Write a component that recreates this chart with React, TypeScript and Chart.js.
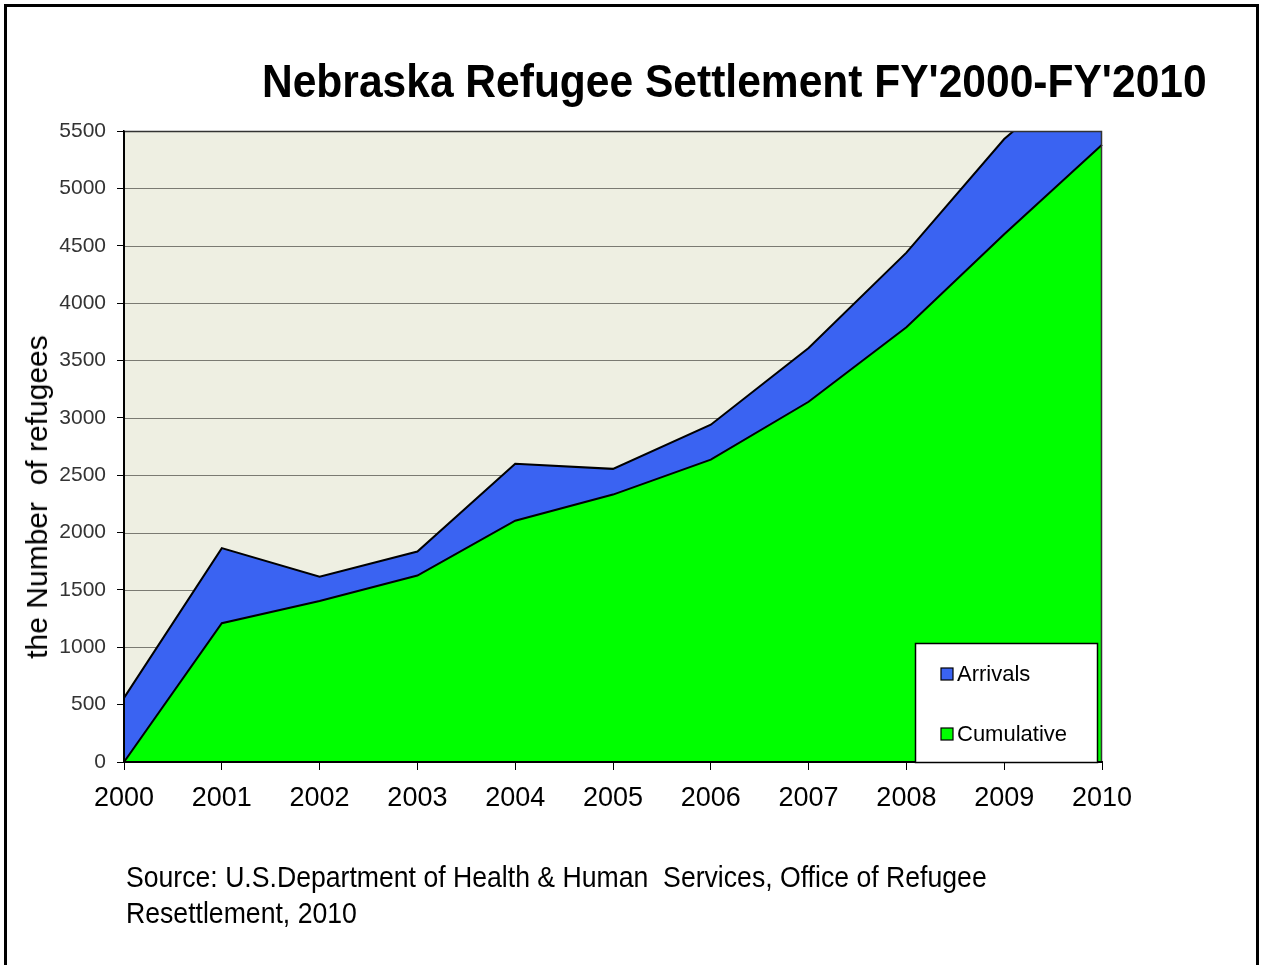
import React, { useEffect, useRef } from 'react';
import { Chart, registerables } from 'chart.js';

Chart.register(...registerables);

const years = ['2000', '2001', '2002', '2003', '2004', '2005', '2006', '2007', '2008', '2009', '2010'];
const cumulative = [0, 1210, 1404, 1625, 2103, 2331, 2636, 3140, 3790, 4600, 5380];
const arrivals = [559, 654, 210, 210, 496, 224, 304, 468, 650, 830, 780];
const yMax = 5500;
const yStep = 500;

const FONT = "'Liberation Sans', Arial, Helvetica, sans-serif";

const plotBackground = {
  id: 'plotBackground',
  beforeDatasetsDraw(chart: any) {
    const { ctx, chartArea: a } = chart;
    ctx.save();
    ctx.fillStyle = '#EEEFE2';
    ctx.fillRect(a.left, a.top, a.right - a.left, a.bottom - a.top);
    const y = chart.scales.y;
    ctx.strokeStyle = '#7a7a72';
    ctx.lineWidth = 1;
    y.ticks.forEach((t: any) => {
      const py = Math.round(y.getPixelForValue(t.value)) + 0.5;
      ctx.beginPath();
      ctx.moveTo(a.left, py);
      ctx.lineTo(a.right, py);
      ctx.stroke();
    });
    ctx.restore();
  },
};

const frameAndLegend = {
  id: 'frameAndLegend',
  afterDraw(chart: any) {
    const { ctx, chartArea: a } = chart;
    ctx.save();
    ctx.strokeStyle = '#333';
    ctx.lineWidth = 1.5;
    ctx.beginPath();
    ctx.moveTo(a.left, a.top + 0.5);
    ctx.lineTo(a.right - 0.5, a.top + 0.5);
    ctx.lineTo(a.right - 0.5, a.bottom);
    ctx.stroke();
    ctx.strokeStyle = '#000';
    ctx.lineWidth = 2;
    ctx.beginPath();
    ctx.moveTo(a.left, a.top);
    ctx.lineTo(a.left, a.bottom);
    ctx.lineTo(a.right, a.bottom);
    ctx.stroke();

    const bx = a.right - 187;
    const by = a.bottom - 119;
    const bw = 182;
    const bh = 119;
    ctx.fillStyle = '#ffffff';
    ctx.fillRect(bx, by, bw, bh);
    ctx.strokeStyle = '#000';
    ctx.lineWidth = 1.5;
    ctx.strokeRect(bx + 0.5, by + 0.5, bw, bh);
    const items = chart.data.datasets.slice().reverse();
    ctx.font = `22px ${FONT}`;
    ctx.textBaseline = 'middle';
    ctx.textAlign = 'left';
    items.forEach((ds: any, i: number) => {
      const cy = by + 31 + i * 60;
      ctx.fillStyle = ds.backgroundColor;
      ctx.fillRect(bx + 26, cy - 6, 12, 12);
      ctx.strokeStyle = '#000';
      ctx.lineWidth = 1.2;
      ctx.strokeRect(bx + 26, cy - 6, 12, 12);
      ctx.fillStyle = '#000';
      ctx.fillText(ds.label, bx + 42, cy + 1);
    });
    ctx.restore();
  },
};

export default function App() {
  const canvasRef = useRef<HTMLCanvasElement | null>(null);

  useEffect(() => {
    const canvas = canvasRef.current;
    if (!canvas) return;
    const chart = new Chart(canvas, {
      type: 'line',
      data: {
        labels: years,
        datasets: [
          {
            label: 'Cumulative',
            data: cumulative,
            backgroundColor: '#00FF00',
            borderColor: '#000000',
            borderWidth: 2,
            fill: 'origin',
            pointRadius: 0,
            tension: 0,
          },
          {
            label: 'Arrivals',
            data: arrivals,
            backgroundColor: '#3A63F2',
            borderColor: '#000000',
            borderWidth: 2,
            fill: '-1',
            pointRadius: 0,
            tension: 0,
          },
        ],
      },
      options: {
        animation: false,
        responsive: false,
        maintainAspectRatio: false,
        events: [],
        layout: { padding: { left: 16, top: 131, right: 160, bottom: 143 } },
        plugins: {
          legend: { display: false },
          tooltip: { enabled: false },
          title: { display: false },
        },
        scales: {
          x: {
            type: 'category',
            offset: false,
            afterFit(scale: any) {
              scale.height = 60;
            },
            grid: {
              display: true,
              drawOnChartArea: false,
              drawTicks: true,
              tickLength: 8,
              color: '#000',
              tickColor: '#000',
              lineWidth: 1,
            },
            border: { display: true, color: '#000', width: 2 },
            ticks: {
              color: '#000',
              padding: 12,
              maxRotation: 0,
              autoSkip: false,
              font: { family: FONT, size: 27 },
            },
          },
          y: {
            stacked: true,
            min: 0,
            max: yMax,
            afterFit(scale: any) {
              scale.width = 108;
            },
            grid: {
              display: true,
              drawOnChartArea: false,
              drawTicks: true,
              tickLength: 7,
              color: '#000',
              tickColor: '#000',
            },
            border: { display: true, color: '#000', width: 1.5 },
            ticks: {
              stepSize: yStep,
              color: '#333',
              padding: 11,
              font: { family: FONT, size: 21 },
              callback: (v: any) => String(v),
            },
            title: { display: false },
          },
        },
      },
      plugins: [plotBackground, frameAndLegend],
    });
    return () => chart.destroy();
  }, []);

  return (
    <div
      style={{
        position: 'absolute',
        left: 0,
        top: 0,
        width: 1262,
        height: 965,
        overflow: 'hidden',
        background: '#fff',
      }}
    >
      <div
        style={{
          position: 'absolute',
          left: 4,
          top: 4,
          width: 1255,
          height: 961,
          boxSizing: 'border-box',
          borderTop: '3px solid #000',
          borderLeft: '3px solid #000',
          borderRight: '3px solid #000',
        }}
      />
      <canvas
        ref={canvasRef}
        width={1262}
        height={965}
        style={{ position: 'absolute', left: 0, top: 0, width: 1262, height: 965 }}
      />
      <div
        style={{
          position: 'absolute',
          left: 37,
          top: 497,
          fontFamily: FONT,
          fontSize: 30,
          lineHeight: 1,
          whiteSpace: 'pre',
          color: '#000',
          transform: 'translate(-50%, -50%) rotate(-90deg)',
        }}
      >
        {'the Number  of refugees'}
      </div>
      <div
        style={{
          position: 'absolute',
          left: 262,
          top: 57,
          fontFamily: FONT,
          fontWeight: 'bold',
          fontSize: 47,
          lineHeight: 1,
          whiteSpace: 'pre',
          color: '#000',
          transform: 'scaleX(0.905)',
          transformOrigin: 'left top',
        }}
      >
        {"Nebraska Refugee Settlement FY'2000-FY'2010"}
      </div>
      <div
        style={{
          position: 'absolute',
          left: 126,
          top: 859,
          fontFamily: FONT,
          fontSize: 29,
          lineHeight: '36px',
          whiteSpace: 'pre',
          color: '#000',
          transform: 'scaleX(0.918)',
          transformOrigin: 'left top',
        }}
      >
        {'Source: U.S.Department of Health & Human  Services, Office of Refugee\nResettlement, 2010'}
      </div>
    </div>
  );
}
